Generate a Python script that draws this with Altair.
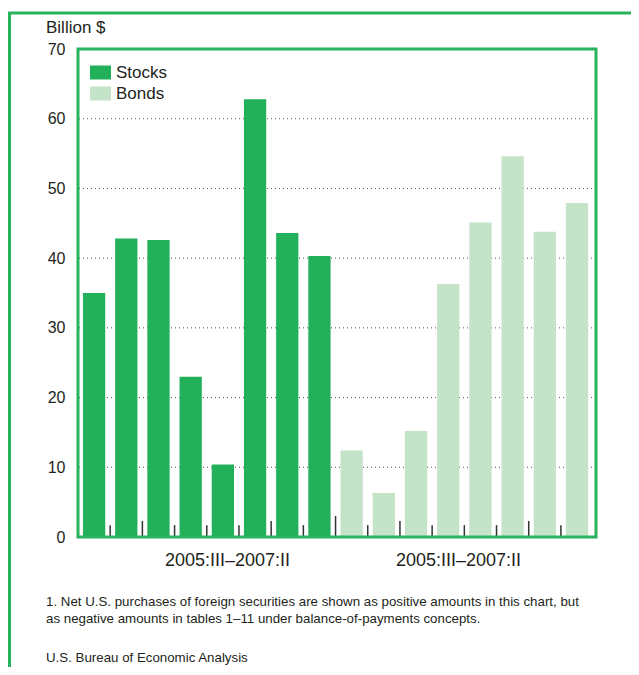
import altair as alt
import pandas as pd

# ---- data ----
quarters = ["2005:III", "2005:IV", "2006:I", "2006:II", "2006:III", "2006:IV", "2007:I", "2007:II"]
stocks = [35.0, 42.8, 42.6, 23.0, 10.4, 62.8, 43.6, 40.3]
bonds = [12.4, 6.3, 15.2, 36.3, 45.1, 54.6, 43.8, 47.9]
series_names = ["Stocks", "Bonds"]
series_colors = ["#22B05B", "#C4E3C8"]
y_ticks = [0, 10, 20, 30, 40, 50, 60, 70]
y_title = "Billion $"
period_label = "2005:III\u20132007:II"
footnote_1 = "1. Net U.S. purchases of foreign securities are shown as positive amounts in this chart, but"
footnote_2 = "as negative amounts in tables 1\u201311 under balance-of-payments concepts."
source = "U.S. Bureau of Economic Analysis"

GREEN = "#2AB35E"
FONT = "Liberation Sans"
TEXT = "#231F20"

rows = []
for s_i, (name, vals) in enumerate(zip(series_names, [stocks, bonds])):
    for q_i, (q, v) in enumerate(zip(quarters, vals)):
        idx = s_i * len(quarters) + q_i
        rows.append({"series": name, "quarter": q, "value": v,
                     "lo": idx - 0.346, "hi": idx + 0.346})
df = pd.DataFrame(rows)

# tick marks between bars: taller at year boundaries, tallest between the groups
tick_rows = []
n = len(quarters)
for s_i in range(len(series_names)):
    for q_i in range(n):
        idx = s_i * n + q_i
        if idx == 2 * n - 1:
            continue
        if q_i == n - 1:
            h = 3.0
        elif quarters[q_i].endswith(":IV"):
            h = 2.3
        else:
            h = 1.7
        tick_rows.append({"pos": idx + 0.5, "h": h})
ticks_df = pd.DataFrame(tick_rows)

grid_df = pd.DataFrame({"v": [t for t in y_ticks if 0 < t < max(y_ticks)]})

xscale = alt.Scale(domain=[-0.5, 15.59], nice=False, zero=False)
yscale = alt.Scale(domain=[0, 70], nice=False)
yaxis = alt.Axis(values=y_ticks, title=None, domain=False, ticks=False, tickSize=0,
                 labelPadding=13, labelFont=FONT, labelFontSize=16, labelColor=TEXT,
                 grid=False)

grid = alt.Chart(grid_df).mark_rule(color="#555555", strokeDash=[1, 3], strokeWidth=1).encode(
    y=alt.Y("v:Q", scale=yscale, axis=yaxis),
)

bars = alt.Chart(df).mark_bar().encode(
    x=alt.X("lo:Q", scale=xscale, axis=None),
    x2="hi:Q",
    y=alt.Y("value:Q", scale=yscale, axis=yaxis),
    y2=alt.datum(0),
    color=alt.Color("series:N", scale=alt.Scale(domain=series_names, range=series_colors),
                    legend=alt.Legend(title=None, orient="none", legendX=12, legendY=13,
                                      symbolType="M-1,-0.667H1V0.667H-1Z", symbolSize=441,
                                      symbolStrokeWidth=0, symbolOpacity=1,
                                      labelFont=FONT, labelFontSize=17, labelColor=TEXT,
                                      labelOffset=5, rowPadding=2, padding=0)),
)

ticks = alt.Chart(ticks_df).mark_rule(color="#333333", strokeWidth=1.5).encode(
    x=alt.X("pos:Q", scale=xscale, axis=None),
    y=alt.Y("h:Q", scale=yscale, axis=yaxis),
    y2=alt.datum(0),
)

one = pd.DataFrame({"a": [0]})

def txt(s, x, y, size, align="left"):
    return alt.Chart(one).mark_text(align=align, baseline="middle", font=FONT,
                                    fontSize=size, color=TEXT).encode(
        x=alt.value(x), y=alt.value(y), text=alt.value(s))

frame = alt.Chart(one).mark_rect(fillOpacity=0, stroke=GREEN, strokeWidth=3).encode(
    x=alt.value(0), x2=alt.value(518), y=alt.value(0), y2=alt.value(488))

outer = alt.Chart(one).mark_rect(fillOpacity=0, stroke=GREEN, strokeWidth=3).encode(
    x=alt.value(-68.5), x2=alt.value(640), y=alt.value(-36), y2=alt.value(800))

chart = alt.layer(
    grid, bars, ticks, frame,
    txt(y_title, -32, -21, 17),
    txt(period_label, 149.5, 512, 18, "center"),
    txt(period_label, 380.5, 512, 18, "center"),
    txt(footnote_1, -32, 553, 13.3),
    txt(footnote_2, -32, 570, 13.3),
    txt(source, -32, 609, 13.3),
    outer,
).properties(
    width=518, height=488,
    autosize=alt.AutoSizeParams(type="none"),
    padding={"left": 70, "top": 41, "right": 35, "bottom": 130},
).configure_view(stroke=None)

chart.save("out.html", embed_options={"renderer": "svg", "actions": False})
